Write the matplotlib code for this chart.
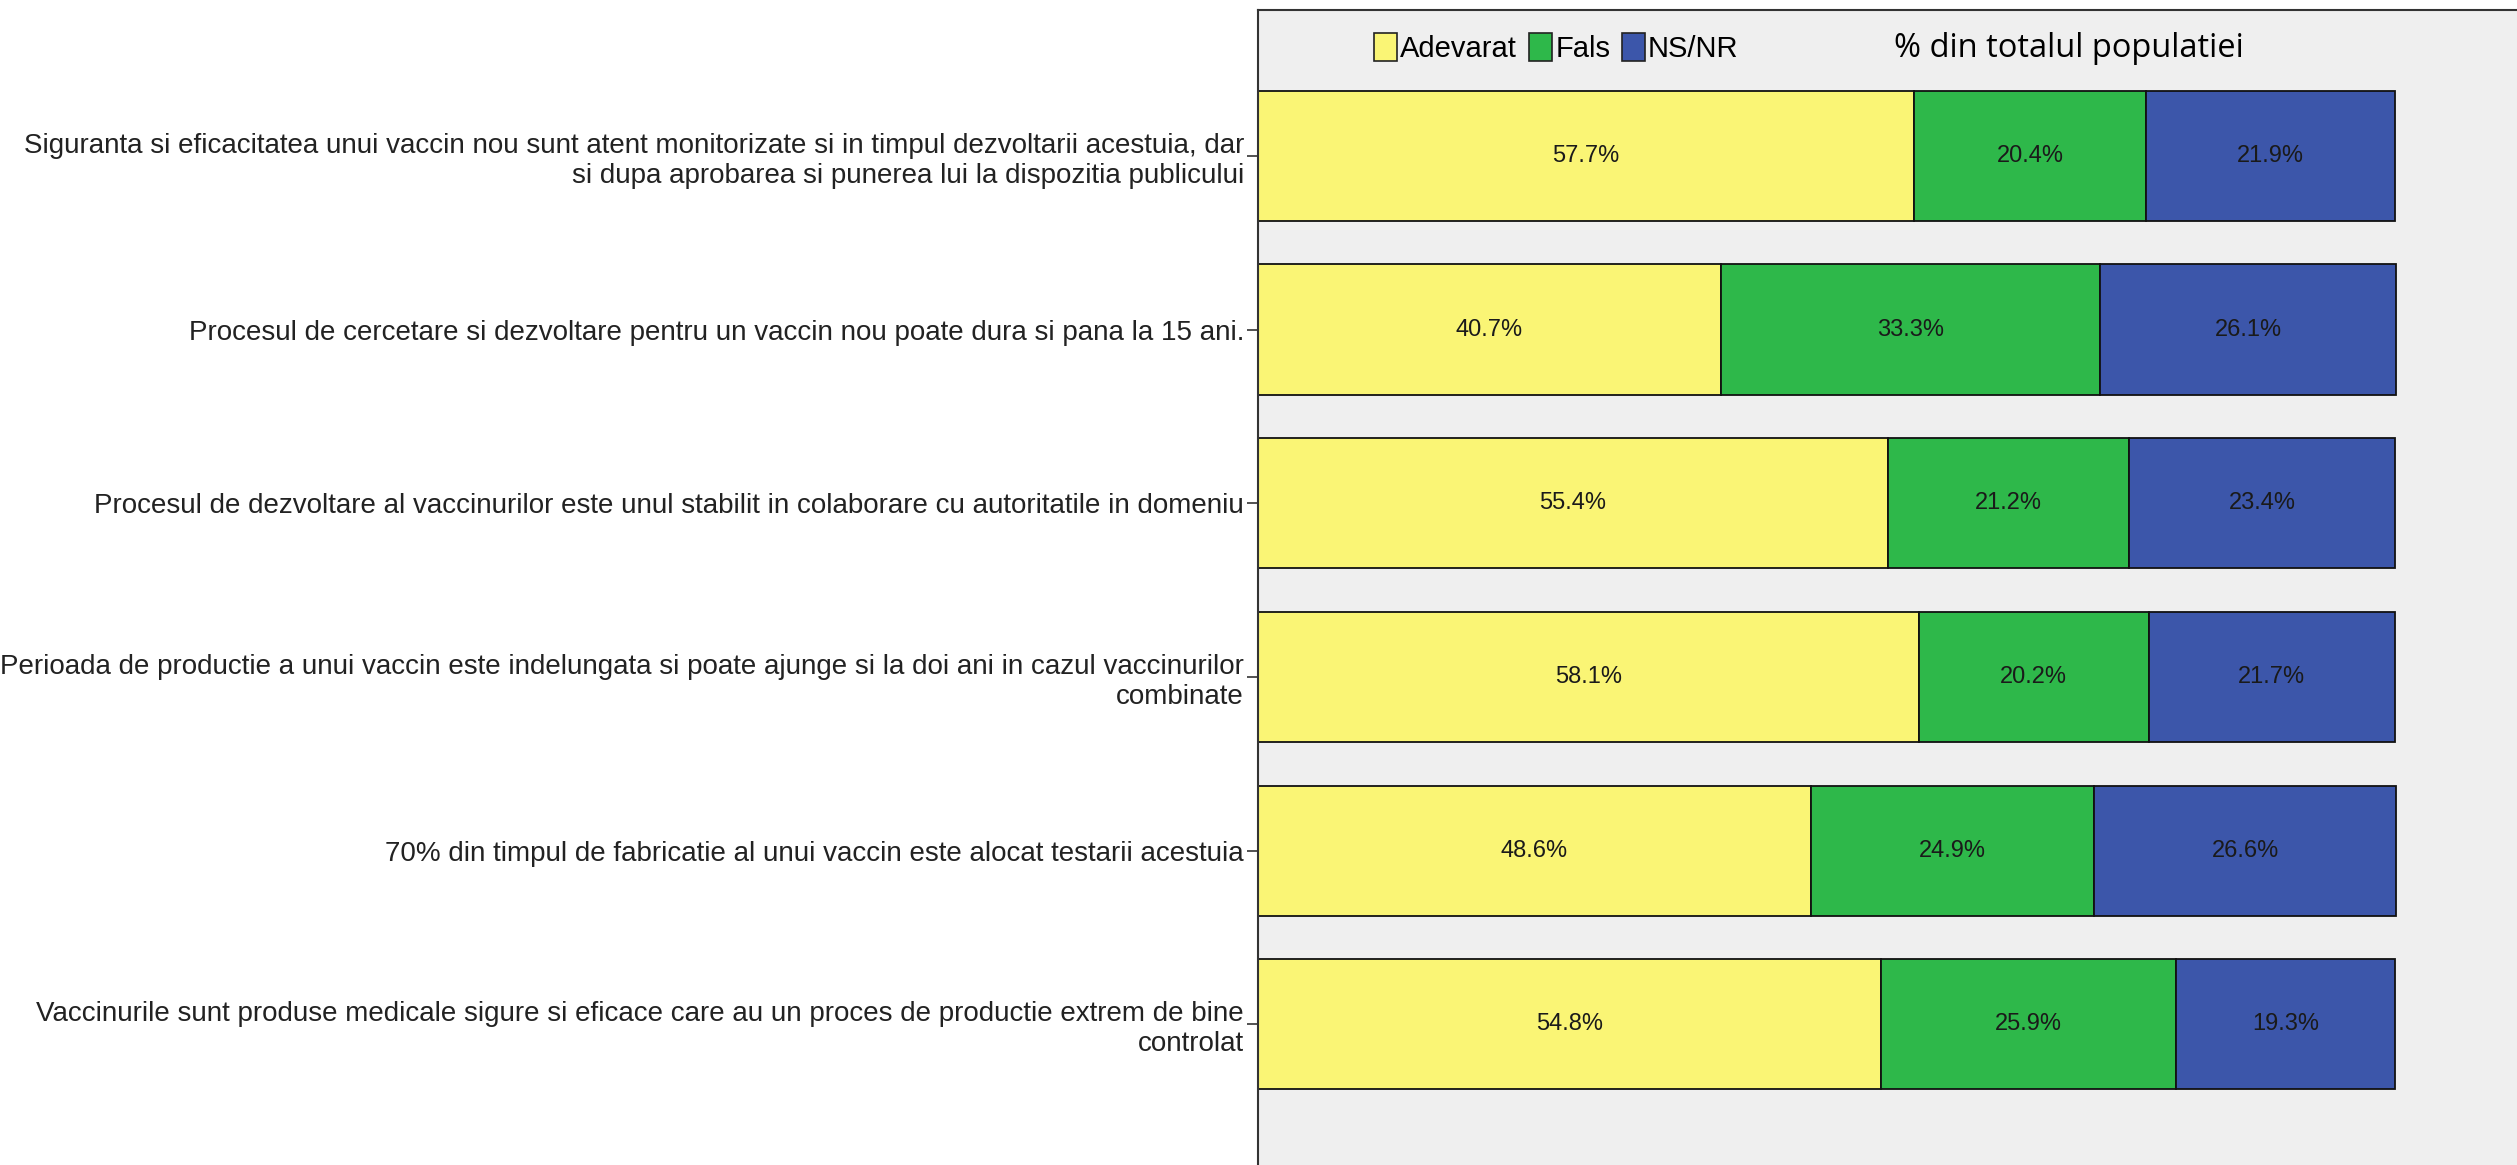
import numpy as np
import matplotlib
matplotlib.use("Agg")
import matplotlib.pyplot as plt
from matplotlib.patches import Patch

# data
statements = [
    "Siguranta si eficacitatea unui vaccin nou sunt atent monitorizate si in timpul dezvoltarii acestuia, dar\nsi dupa aprobarea si punerea lui la dispozitia publicului",
    "Procesul de cercetare si dezvoltare pentru un vaccin nou poate dura si pana la 15 ani.",
    "Procesul de dezvoltare al vaccinurilor este unul stabilit in colaborare cu autoritatile in domeniu",
    "Perioada de productie a unui vaccin este indelungata si poate ajunge si la doi ani in cazul vaccinurilor\ncombinate",
    "70% din timpul de fabricatie al unui vaccin este alocat testarii acestuia",
    "Vaccinurile sunt produse medicale sigure si eficace care au un proces de productie extrem de bine\ncontrolat",
]
series_names = ["Adevarat", "Fals", "NS/NR"]
adevarat = [57.7, 40.7, 55.4, 58.1, 48.6, 54.8]
fals = [20.4, 33.3, 21.2, 20.2, 24.9, 25.9]
nsnr = [21.9, 26.1, 23.4, 21.7, 26.6, 19.3]
title = "% din totalul populatiei"

colors = ["#FAF575", "#2EB84A", "#3C56AA"]
label_font = ["Liberation Sans", "DejaVu Sans"]

fig = plt.figure(figsize=(25.17, 11.65), dpi=100)
ax = fig.add_axes([0.4998, 0.0, 0.5002, 0.9914])
ax.set_facecolor("#EFEFEF")

y = np.arange(len(statements))
left = np.zeros(len(statements))
for vals, name, col in zip([adevarat, fals, nsnr], series_names, colors):
    vals = np.array(vals)
    ax.barh(y, vals, left=left, height=0.75, color=col, edgecolor="#111111",
            linewidth=1.3, label=name)
    for yi, l, v in zip(y, left, vals):
        ax.text(l + v / 2, yi, f"{v:.1f}%", ha="center", va="center",
                fontsize=17, family=label_font, color="#1a1a1a")
    left = left + vals

ax.set_xlim(0, 110.7)
ax.set_ylim(5.81, -0.84)
ax.set_xticks([])
ax.set_yticks(y)
ax.set_yticklabels(statements, fontsize=20, family=label_font, color="#222222",
                   multialignment="right")
ax.tick_params(axis="y", length=8, width=1.2, color="#333333", pad=2)

for s in ["right", "bottom"]:
    ax.spines[s].set_visible(False)
for s in ["left", "top"]:
    ax.spines[s].set_color("#333333")
    ax.spines[s].set_linewidth(1.5)

handles = [Patch(facecolor=c, edgecolor="#222222", linewidth=1.2) for c in colors]
leg = ax.legend(handles, series_names, ncol=3, frameon=False, loc="center",
                bbox_to_anchor=(0.237, 0.967), handlelength=0.8, handleheight=1.1,
                handletextpad=0.1, columnspacing=0.4,
                prop={"family": label_font, "size": 21})

ax.text(0.644, 0.967, title, transform=ax.transAxes, ha="center", va="center",
        fontsize=23.5, family=["Open Sans", "DejaVu Sans"], color="black")

fig.savefig("out.png", dpi=100, facecolor="white")
